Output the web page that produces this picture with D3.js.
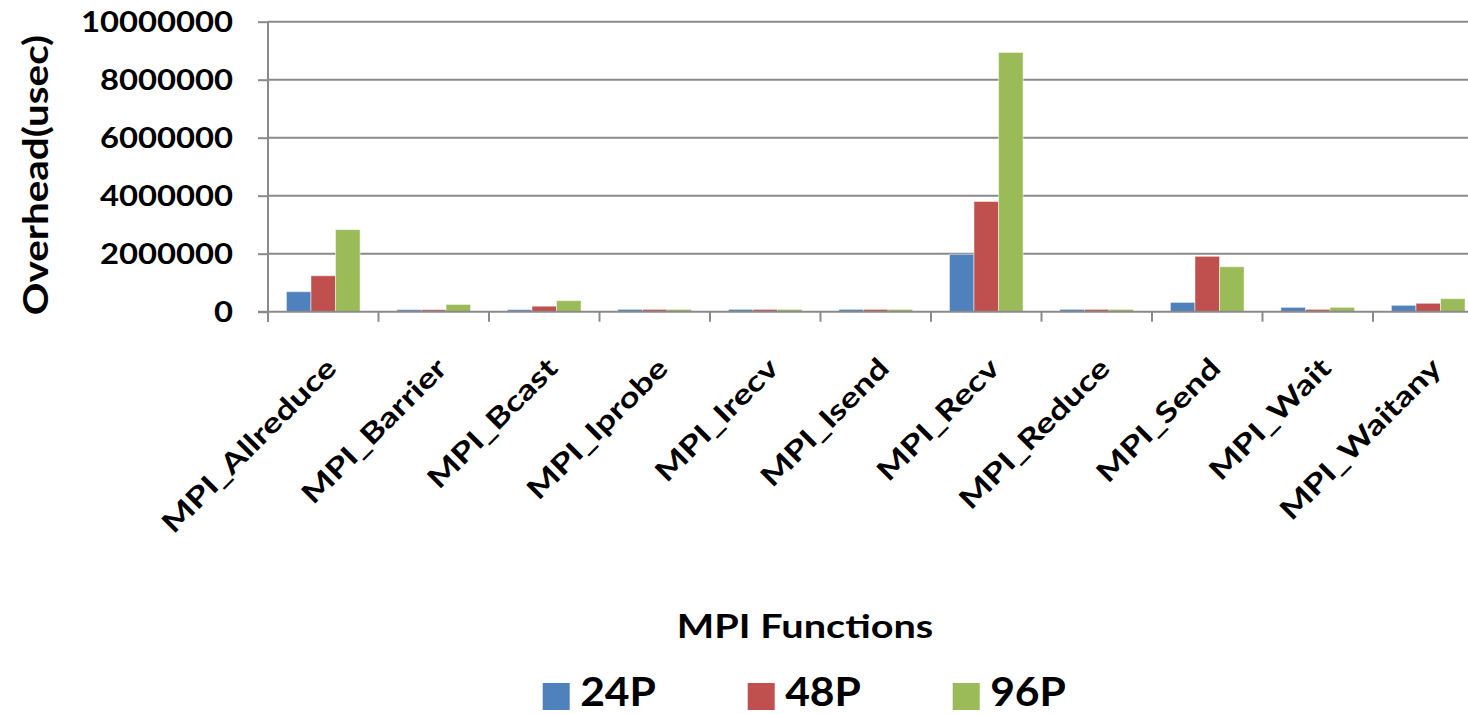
<!DOCTYPE html>
<html>
<head>
<meta charset="utf-8">
<script src="https://cdn.jsdelivr.net/npm/d3@7"></script>
<style>
  html, body { margin: 0; padding: 0; background: #fff; }
  svg { display: block; font-family: "Lato", "Open Sans", sans-serif; font-weight: 700; }
</style>
</head>
<body>
<svg id="chart" width="1468" height="715"></svg>
<script>
// MPI function overhead per process count
const categories = ["MPI_Allreduce", "MPI_Barrier", "MPI_Bcast", "MPI_Iprobe", "MPI_Irecv",
  "MPI_Isend", "MPI_Recv", "MPI_Reduce", "MPI_Send", "MPI_Wait", "MPI_Waitany"];
const seriesNames = ["24P", "48P", "96P"];
const values24P = [690000, 70000, 70000, 80000, 80000, 80000, 1980000, 80000, 320000, 150000, 220000];
const values48P = [1240000, 70000, 190000, 80000, 80000, 80000, 3800000, 80000, 1910000, 80000, 290000];
const values96P = [2830000, 250000, 380000, 80000, 80000, 80000, 8940000, 80000, 1550000, 150000, 450000];
const yTicks = [0, 2000000, 4000000, 6000000, 8000000, 10000000];
const colors = ["#4F81BD", "#C0504D", "#9BBB59"];
const xTitle = "MPI Functions";
const yTitle = "Overhead(usec)";

const seriesValues = [values24P, values48P, values96P];
const rows = categories.map((c, i) => ({
  name: c,
  vals: seriesNames.map((s, j) => ({ key: s, value: seriesValues[j][i] }))
}));

const svg = d3.select("#chart");
const W = 1468;
const left = 268, zeroY = 311.7, topY = 21.7, step = 110.5;

const x = d3.scaleBand().domain(categories).range([left, left + categories.length * step]).padding(0);
const xs = d3.scaleBand().domain(seriesNames).range([0, x.bandwidth()]).paddingInner(0).paddingOuter(0.75);
const y = d3.scaleLinear().domain([0, 10000000]).range([zeroY, topY]);
const color = d3.scaleOrdinal().domain(seriesNames).range(colors);

const gridColor = "#8a8a8a";

// horizontal gridlines
svg.append("g").selectAll("line")
  .data(yTicks.filter(d => d > 0))
  .join("line")
  .attr("x1", left).attr("x2", W)
  .attr("y1", d => y(d)).attr("y2", d => y(d))
  .attr("stroke", gridColor).attr("stroke-width", 2);

// bars
svg.append("g").selectAll("g")
  .data(rows)
  .join("g")
  .attr("transform", d => `translate(${x(d.name)},0)`)
  .selectAll("rect")
  .data(d => d.vals)
  .join("rect")
  .attr("x", d => xs(d.key))
  .attr("width", xs.bandwidth())
  .attr("y", d => y(d.value))
  .attr("height", d => y(0) - y(d.value))
  .attr("fill", d => color(d.key))
  .attr("stroke", "#ffffff").attr("stroke-opacity", 0.5).attr("stroke-width", 1);

// y axis
const yAxis = svg.append("g")
  .attr("transform", `translate(${left},0)`)
  .call(d3.axisLeft(y).tickValues(yTicks).tickSize(10).tickSizeOuter(0).tickFormat(d3.format("d")));
yAxis.select(".domain").attr("stroke", gridColor).attr("stroke-width", 2)
  .attr("d", `M0,${topY}V${zeroY + 10}`);
yAxis.selectAll(".tick line").attr("stroke", gridColor).attr("stroke-width", 2);
yAxis.selectAll(".tick text")
  .attr("x", null).attr("dy", null)
  .attr("transform", "translate(-35,10) scale(1.17,1)")
  .attr("font-size", 28).attr("font-family", "Lato, 'Open Sans', sans-serif")
  .attr("font-weight", 700).attr("fill", "#000");

// x axis line and category boundary ticks
const xAxis = svg.append("g");
xAxis.append("line")
  .attr("x1", left - 10).attr("x2", W)
  .attr("y1", zeroY).attr("y2", zeroY)
  .attr("stroke", gridColor).attr("stroke-width", 2);
const bounds = categories.map(c => x(c)).concat([x.range()[1]]);
xAxis.selectAll("line.tick")
  .data(bounds)
  .join("line")
  .attr("class", "tick")
  .attr("x1", d => d).attr("x2", d => d)
  .attr("y1", zeroY).attr("y2", zeroY + 10)
  .attr("stroke", gridColor).attr("stroke-width", 2);

// rotated category labels
xAxis.selectAll("text")
  .data(categories)
  .join("text")
  .attr("text-anchor", "end")
  .attr("font-size", 28)
  .attr("transform", d => `translate(${x(d) + x.bandwidth() / 2 + 15},370) rotate(-45) scale(1.27,1)`)
  .text(d => d);

// axis titles
svg.append("text")
  .attr("text-anchor", "middle")
  .attr("font-size", 32)
  .attr("transform", "translate(805,638) scale(1.24,1)")
  .text(xTitle);

svg.append("text")
  .attr("text-anchor", "middle")
  .attr("font-size", 34)
  .attr("transform", "translate(48,175) rotate(-90) scale(1.19,1)")
  .text(yTitle);

// legend
const legend = svg.append("g").selectAll("g")
  .data(seriesNames)
  .join("g")
  .attr("transform", (d, i) => `translate(${542.7 + i * 205},683)`);
legend.append("rect")
  .attr("width", 27).attr("height", 27)
  .attr("fill", d => color(d));
legend.append("text")
  .attr("x", 36).attr("y", 23)
  .attr("font-size", 41)
  .attr("transform", "scale(1.04,1)")
  .text(d => d);
</script>
</body>
</html>
